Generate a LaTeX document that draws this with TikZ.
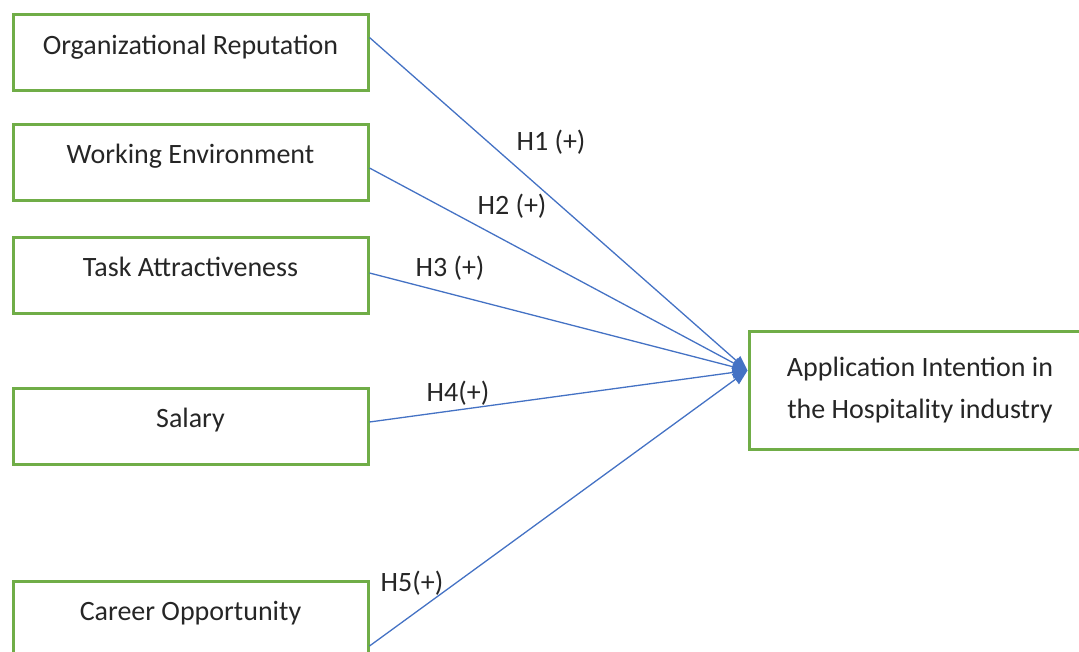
\documentclass[tikz,border=0pt]{standalone}
\usepackage{fontspec}
\setmainfont{Carlito}
\usetikzlibrary{arrows.meta}

\definecolor{boxgreen}{HTML}{70AD47}
\definecolor{linkblue}{HTML}{4472C4}

\begin{document}
\begin{tikzpicture}[x=1pt, y=-1pt, every node/.style={font=\fontsize{28}{42}\selectfont, text=black!85}]
		\tikzset{
			framebox/.style={draw=boxgreen, line width=3pt, inner sep=0pt},
			factor/.style={framebox, minimum width=355pt, minimum height=76pt, text height=20pt, text depth=17pt},
			outcome/.style={framebox, minimum width=342pt, minimum height=118pt, align=center},
			link/.style={draw=linkblue, line width=1.3pt, -{Triangle[length=15pt, width=12pt]}},
			hyp/.style={inner sep=0pt}
		}
		\useasboundingbox (0,0) rectangle (1079,651);
		
		\node[factor] (rep) at (190.5,52.5) {Organizational Reputation};
		\node[factor] (env) at (190.5,162) {Working Environment};
		\node[factor] (task) at (190.5,275) {Task Attractiveness};
		\node[factor] (sal) at (190.5,426) {Salary};
		\node[factor] (car) at (190.5,619) {Career Opportunity};
		\node[outcome] (app) at (920,390.5) {Application Intention in\\the Hospitality industry};
		
		\draw[link] ([yshift=15pt]rep.east) to ([yshift=20pt]app.west);
		\draw[link] ([yshift=-6pt]env.east) to ([yshift=20pt]app.west);
		\draw[link] ([yshift=2pt]task.east) to ([yshift=20pt]app.west);
		\draw[link] ([yshift=4pt]sal.east) to ([yshift=20pt]app.west);
		\draw[link] ([yshift=-27pt]car.east) to ([yshift=20pt]app.west);
		
		\node[hyp] (h1) at (551,142) {H1 (+)};
		\node[hyp] (h2) at (512,206) {H2 (+)};
		\node[hyp] (h3) at (450,268) {H3 (+)};
		\node[hyp] (h4) at (458,393) {H4(+)};
		\node[hyp] (h5) at (412,583) {H5(+)};
	\end{tikzpicture}
\end{document}
